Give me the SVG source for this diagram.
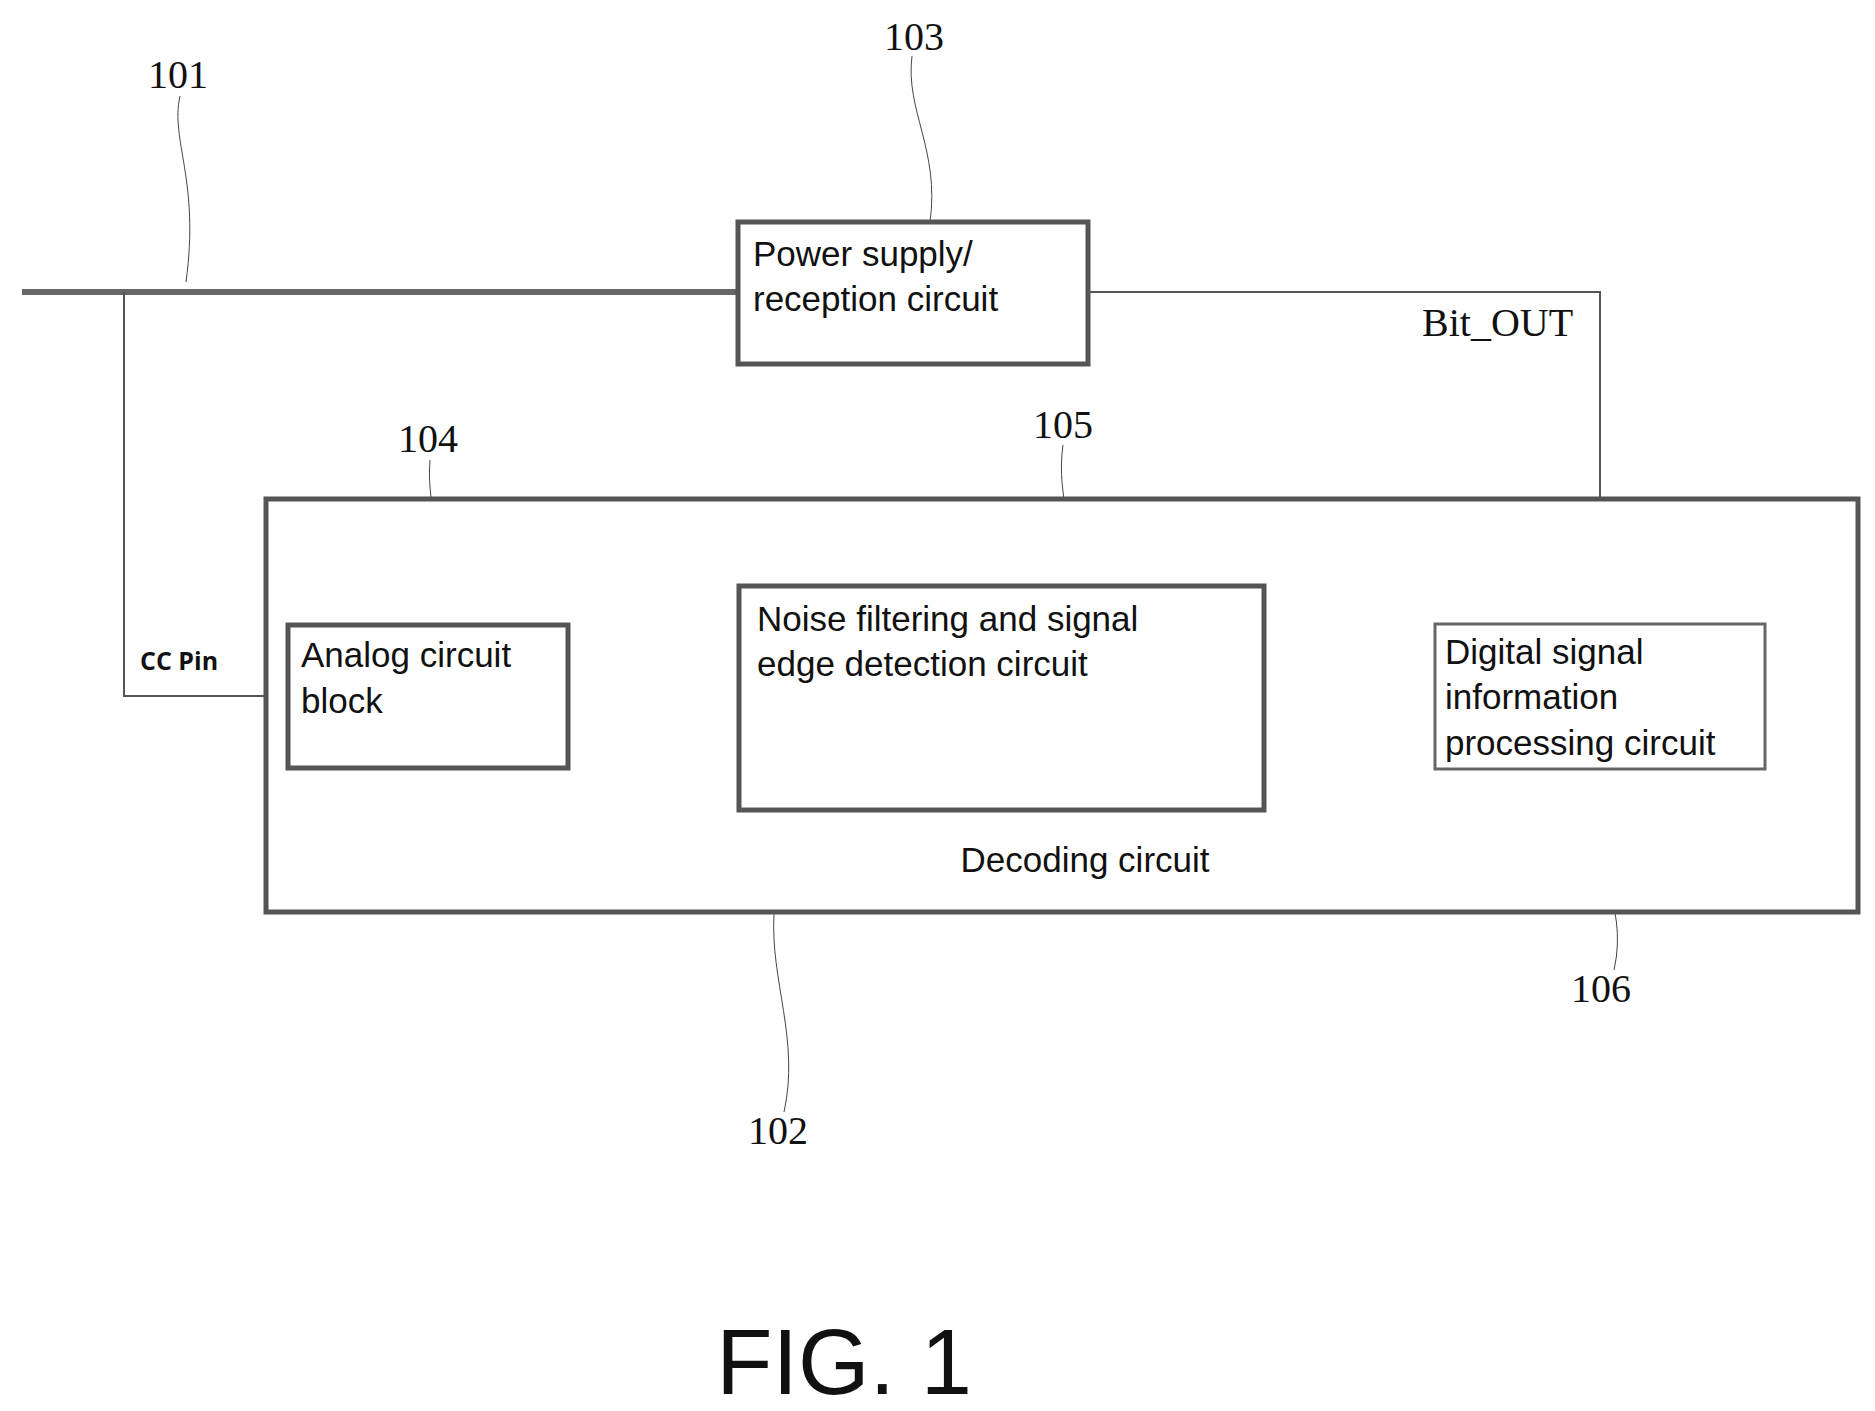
<svg xmlns="http://www.w3.org/2000/svg" width="1875" height="1411" viewBox="0 0 1875 1411">
<style>
.box{fill:#fff;stroke:#555;stroke-width:5}
.thin{fill:#fff;stroke:#666;stroke-width:3}
.t{font-family:"Liberation Sans",Arial,sans-serif;font-size:35px;fill:#111}
.n{font-family:"Liberation Serif","Times New Roman",serif;font-size:40px;fill:#111}
.w{fill:none;stroke:#555;stroke-width:2}
.lead{fill:none;stroke:#444;stroke-width:1}
</style>
<defs><marker id="ah" markerWidth="10" markerHeight="8" refX="9" refY="4" orient="auto" markerUnits="userSpaceOnUse"><path d="M0,0 L10,4 L0,8 z" fill="#777"/></marker></defs>
<rect width="1875" height="1411" fill="#fff"/>
<g id="connectors">
<line x1="22" y1="292" x2="738" y2="292" stroke="#666" stroke-width="6"/>
<polyline class="w" points="124,292 124,696 288,696"/>
<polyline class="w" points="1088,292 1600,292 1600,624"/>
<line x1="568" y1="696" x2="692" y2="696" stroke="#777" stroke-width="6"/>
<polygon points="690,678 738,696 690,714" fill="#888"/>
<line x1="1264" y1="697" x2="1388" y2="697" stroke="#777" stroke-width="6"/>
<polygon points="1386,679 1435,697 1386,715" fill="#888"/>
<path class="lead" d="M180,96 C170,140 200,180 186,282"/>
<path class="lead" d="M912,56 C905,110 940,150 930,222"/>
<path class="lead" d="M430,460 C425,520 455,560 444,625"/>
<path class="lead" d="M1063,445 C1055,500 1080,540 1072,594"/>
<path class="lead" d="M1596,772 C1585,860 1630,900 1614,970"/>
<path class="lead" d="M774,914 C770,980 800,1040 784,1112"/>
</g>
<g id="n102"><rect x="266" y="499" width="1592" height="413" class="box"/><text class="t" x="1085" y="872" text-anchor="middle">Decoding circuit</text></g>
<g id="n103"><rect x="738" y="222" width="350" height="142" class="box"/><text class="t" x="753" y="266">Power supply/</text><text class="t" x="753" y="311">reception circuit</text></g>
<g id="n104"><rect x="288" y="625" width="280" height="143" class="box"/><text class="t" x="301" y="667">Analog circuit</text><text class="t" x="301" y="713">block</text></g>
<g id="n105"><rect x="739" y="586" width="525" height="224" class="box"/><text class="t" x="757" y="631">Noise filtering and signal</text><text class="t" x="757" y="676">edge detection circuit</text></g>
<g id="n106"><rect x="1435" y="624" width="330" height="145" class="thin"/><text class="t" x="1445" y="664">Digital signal</text><text class="t" x="1445" y="709">information</text><text class="t" x="1445" y="755">processing circuit</text></g>
<g id="labels">
<text x="140" y="670" font-family="'Open Sans','Noto Sans',sans-serif" font-weight="bold" font-size="25" fill="#111">CC Pin</text>
<text class="n" x="1422" y="336">Bit_OUT</text>
<text class="n" x="178" y="88" text-anchor="middle">101</text>
<text class="n" x="914" y="50" text-anchor="middle">103</text>
<text class="n" x="428" y="452" text-anchor="middle">104</text>
<text class="n" x="1063" y="438" text-anchor="middle">105</text>
<text class="n" x="1601" y="1002" text-anchor="middle">106</text>
<text class="n" x="778" y="1144" text-anchor="middle">102</text>
<text x="844" y="1394" text-anchor="middle" font-family="'Liberation Sans',Arial,sans-serif" font-size="92" fill="#111">FIG. 1</text>
</g>
</svg>
